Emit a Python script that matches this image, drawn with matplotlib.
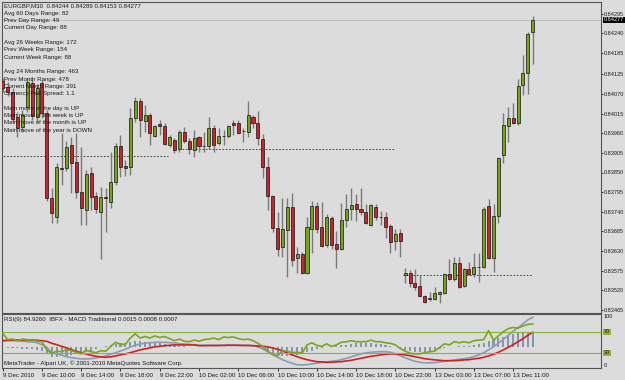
import numpy as np
import matplotlib.pyplot as plt
from matplotlib.transforms import blended_transform_factory

plt.rcParams['font.family'] = ['Liberation Sans', 'DejaVu Sans']

symbol = 'EURGBP,M30'

# M30 candles, oldest first
opens = [0.84106, 0.84090, 0.84075, 0.84005, 0.83977, 0.84033, 0.84101, 0.84005, 0.84101, 0.84017,
         0.83779, 0.83725, 0.83863, 0.83863, 0.83927, 0.83879, 0.83795, 0.83745, 0.83849, 0.83784,
         0.83739, 0.83781, 0.83767, 0.83823, 0.83924, 0.83868, 0.83865, 0.84003, 0.84050, 0.83994,
         0.84011, 0.83952, 0.83986, 0.83980, 0.83927, 0.83941, 0.83916, 0.83963, 0.83938, 0.83913,
         0.83949, 0.83924, 0.83924, 0.83975, 0.83933, 0.83952, 0.83952, 0.83989, 0.83989, 0.83966,
         0.83963, 0.84005, 0.83989, 0.83944, 0.83865, 0.83784, 0.83695, 0.83641, 0.83689, 0.83753,
         0.83611, 0.83622, 0.83569, 0.83692, 0.83756, 0.83697, 0.83647, 0.83723, 0.83650, 0.83636,
         0.83717, 0.83748, 0.83762, 0.83748, 0.83739, 0.83703, 0.83753, 0.83725, 0.83725, 0.83700,
         0.83658, 0.83681, 0.83563, 0.83569, 0.83541, 0.83532, 0.83504, 0.83496, 0.83496, 0.83510,
         0.83513, 0.83566, 0.83552, 0.83597, 0.83532, 0.83580, 0.83566, 0.83585, 0.83585, 0.83756,
         0.83611, 0.83728, 0.83899, 0.83980, 0.84003, 0.83989, 0.84095, 0.84129, 0.84244]
highs = [0.84115, 0.84103, 0.84087, 0.84019, 0.84025, 0.84115, 0.84112, 0.84098, 0.84109, 0.84025,
         0.83807, 0.83877, 0.83961, 0.83938, 0.83949, 0.83961, 0.83921, 0.83857, 0.83865, 0.83795,
         0.83809, 0.83807, 0.83907, 0.83933, 0.83955, 0.83885, 0.84031, 0.84061, 0.84059, 0.84039,
         0.84017, 0.83983, 0.83997, 0.83989, 0.83955, 0.83947, 0.83969, 0.83977, 0.83947, 0.83969,
         0.83952, 0.83963, 0.84005, 0.83983, 0.83975, 0.83969, 0.83983, 0.83997, 0.83997, 0.83975,
         0.84050, 0.84011, 0.84022, 0.83958, 0.83893, 0.83787, 0.83739, 0.83779, 0.83779, 0.83793,
         0.83641, 0.83627, 0.83725, 0.83770, 0.83767, 0.83767, 0.83734, 0.83728, 0.83686, 0.83765,
         0.83790, 0.83807, 0.83790, 0.83807, 0.83762, 0.83762, 0.83762, 0.83742, 0.83739, 0.83706,
         0.83692, 0.83692, 0.83583, 0.83577, 0.83580, 0.83563, 0.83507, 0.83515, 0.83529, 0.83518,
         0.83569, 0.83608, 0.83613, 0.83613, 0.83583, 0.83599, 0.83625, 0.83625, 0.83753, 0.83776,
         0.83762, 0.83893, 0.84017, 0.84033, 0.84045, 0.84112, 0.84179, 0.84243, 0.84289]
lows = [0.84075, 0.84064, 0.83991, 0.83949, 0.83963, 0.84019, 0.83997, 0.83991, 0.84003, 0.83770,
        0.83709, 0.83709, 0.83815, 0.83854, 0.83793, 0.83779, 0.83703, 0.83703, 0.83745, 0.83737,
        0.83608, 0.83683, 0.83751, 0.83815, 0.83837, 0.83840, 0.83843, 0.83991, 0.83949, 0.83963,
        0.83927, 0.83949, 0.83955, 0.83927, 0.83921, 0.83905, 0.83907, 0.83933, 0.83902, 0.83893,
        0.83907, 0.83907, 0.83916, 0.83907, 0.83927, 0.83927, 0.83947, 0.83955, 0.83958, 0.83935,
        0.83949, 0.83975, 0.83927, 0.83835, 0.83745, 0.83683, 0.83616, 0.83613, 0.83557, 0.83588,
        0.83569, 0.83566, 0.83566, 0.83625, 0.83681, 0.83641, 0.83641, 0.83636, 0.83583, 0.83633,
        0.83697, 0.83717, 0.83714, 0.83731, 0.83706, 0.83700, 0.83717, 0.83703, 0.83667, 0.83625,
        0.83633, 0.83613, 0.83541, 0.83529, 0.83521, 0.83501, 0.83485, 0.83490, 0.83493, 0.83485,
        0.83510, 0.83549, 0.83546, 0.83527, 0.83529, 0.83563, 0.83557, 0.83543, 0.83583, 0.83608,
        0.83571, 0.83709, 0.83877, 0.83935, 0.83987, 0.83983, 0.84067, 0.84070, 0.84153]
closes = [0.84087, 0.84075, 0.84000, 0.83975, 0.84011, 0.84103, 0.84008, 0.84087, 0.84017, 0.83779,
          0.83737, 0.83865, 0.83860, 0.83921, 0.83877, 0.83795, 0.83751, 0.83846, 0.83781, 0.83748,
          0.83781, 0.83779, 0.83823, 0.83924, 0.83865, 0.83863, 0.84003, 0.84050, 0.83997, 0.84011,
          0.83961, 0.83980, 0.83980, 0.83930, 0.83949, 0.83913, 0.83963, 0.83938, 0.83916, 0.83947,
          0.83924, 0.83925, 0.83975, 0.83927, 0.83952, 0.83953, 0.83980, 0.83983, 0.83961, 0.83967,
          0.84011, 0.83989, 0.83947, 0.83865, 0.83784, 0.83695, 0.83636, 0.83692, 0.83753, 0.83605,
          0.83622, 0.83569, 0.83697, 0.83756, 0.83692, 0.83644, 0.83725, 0.83647, 0.83636, 0.83717,
          0.83748, 0.83759, 0.83748, 0.83739, 0.83709, 0.83759, 0.83725, 0.83726, 0.83697, 0.83655,
          0.83678, 0.83658, 0.83569, 0.83541, 0.83529, 0.83504, 0.83487, 0.83497, 0.83513, 0.83515,
          0.83566, 0.83552, 0.83597, 0.83529, 0.83580, 0.83566, 0.83585, 0.83586, 0.83748, 0.83611,
          0.83728, 0.83891, 0.83983, 0.84003, 0.83989, 0.84092, 0.84129, 0.84238, 0.84277]

# indicator window
rsi = [67, 55, 56, 53, 56, 55, 54, 52, 51, 35,
       29, 33, 32, 36, 34, 31, 28, 35, 32, 30,
       34, 33, 42, 50, 46, 46, 58, 66, 58, 61,
       58, 62, 59, 61, 57, 53, 56, 52, 51, 54,
       52, 55, 56, 58, 55, 60, 59, 60, 57, 55,
       56, 53, 48, 42, 33, 27, 24, 34, 33, 30,
       31, 29, 45, 49, 44, 42, 47, 42, 45, 50,
       51, 53, 51, 51, 51, 54, 51, 51, 49, 48,
       45, 38, 33, 29, 28, 28, 30, 32, 33, 40,
       47, 45, 51, 49, 51, 49, 53, 54, 55, 72,
       54, 62, 70, 76, 78, 77, 81, 84, 84.926]
macd = [0.00033, 0.00033, 0.00033, 0.00032, 0.00030, 0.00028, 0.00027, 0.00023, 0.00013, 0.00000,
        -0.00027, -0.00033, -0.00040, -0.00047, -0.00052, -0.00055, -0.00058, -0.00058, -0.00057, -0.00053,
        -0.00048, -0.00043, -0.00035, -0.00027, -0.00018, -0.00010, 0.00002, 0.00010, 0.00017, 0.00020,
        0.00023, 0.00025, 0.00025, 0.00025, 0.00023, 0.00022, 0.00018, 0.00017, 0.00015, 0.00013,
        0.00010, 0.00011, 0.00010, 0.00009, 0.00010, 0.00011, 0.00012, 0.00011, 0.00010, 0.00010,
        0.00010, 0.00008, 0.00002, -0.00008, -0.00022, -0.00037, -0.00050, -0.00062, -0.00072, -0.00080,
        -0.00087, -0.00088, -0.00087, -0.00083, -0.00080, -0.00075, -0.00073, -0.00070, -0.00067, -0.00062,
        -0.00055, -0.00048, -0.00040, -0.00033, -0.00028, -0.00025, -0.00023, -0.00022, -0.00022, -0.00025,
        -0.00032, -0.00042, -0.00052, -0.00062, -0.00070, -0.00075, -0.00078, -0.00078, -0.00077, -0.00073,
        -0.00070, -0.00067, -0.00063, -0.00060, -0.00057, -0.00053, -0.00047, -0.00038, -0.00027, -0.00012,
        0.00003, 0.00020, 0.00040, 0.00060, 0.00080, 0.00098, 0.00117, 0.00137, 0.00150]
signal = [0.00033, 0.00035, 0.00037, 0.00037, 0.00037, 0.00037, 0.00037, 0.00035, 0.00033, 0.00030,
          0.00020, 0.00013, 0.00005, -0.00003, -0.00012, -0.00020, -0.00027, -0.00033, -0.00040, -0.00045,
          -0.00048, -0.00050, -0.00048, -0.00043, -0.00038, -0.00033, -0.00027, -0.00020, -0.00013, -0.00008,
          -0.00003, 0.00002, 0.00005, 0.00008, 0.00010, 0.00012, 0.00012, 0.00012, 0.00012, 0.00012,
          0.00008, 0.00008, 0.00009, 0.00009, 0.00009, 0.00009, 0.00010, 0.00010, 0.00010, 0.00009,
          0.00009, 0.00008, 0.00007, 0.00005, 0.00002, -0.00003, -0.00010, -0.00018, -0.00028, -0.00038,
          -0.00047, -0.00055, -0.00062, -0.00067, -0.00072, -0.00073, -0.00075, -0.00075, -0.00073, -0.00072,
          -0.00068, -0.00065, -0.00060, -0.00055, -0.00050, -0.00045, -0.00042, -0.00038, -0.00035, -0.00033,
          -0.00033, -0.00035, -0.00038, -0.00042, -0.00047, -0.00052, -0.00057, -0.00060, -0.00063, -0.00065,
          -0.00067, -0.00067, -0.00067, -0.00065, -0.00063, -0.00062, -0.00058, -0.00055, -0.00050, -0.00043,
          -0.00035, -0.00025, -0.00013, 0.00000, 0.00013, 0.00028, 0.00043, 0.00060, 0.00075]
rsi_levels = [70, 30]

price_ticks = [0.84295, 0.84240, 0.84185, 0.84125, 0.84070, 0.84015, 0.83960, 0.83905,
               0.83850, 0.83795, 0.83740, 0.83685, 0.83630, 0.83575, 0.83520, 0.83465]
time_bars = [0, 8, 16, 24, 32, 40, 48, 56, 64, 72, 80, 88, 96, 104]
time_labels = ['9 Dec 2010', '9 Dec 10:00', '9 Dec 14:00', '9 Dec 18:00', '9 Dec 22:00',
               '10 Dec 02:00', '10 Dec 06:00', '10 Dec 10:00', '10 Dec 14:00', '10 Dec 18:00',
               '10 Dec 22:00', '13 Dec 03:00', '13 Dec 07:00', '13 Dec 11:00']

# dashed daily levels: price, first bar, last bar
level_prices = [0.83895, 0.83915, 0.83562]
level_starts = [-0.5, 36.6, 81.6]
level_ends = [33.7, 80.0, 108.0]

info_lines = ['Avg 60 Days Range: 82', 'Prev Day Range: 49', 'Current Day Range: 88', '',
              'Avg 26 Weeks Range: 172', 'Prev Week Range: 154', 'Current Week Range: 88', '',
              'Avg 24 Months Range: 463', 'Prev Month Range: 478', 'Current Month Range: 391',
              'Currency Pair Spread: 1.1', '',
              'Main move of the day is UP', 'Main move of the week is UP',
              'Main move of the month is UP', 'Main move of the year is DOWN']
panel_title = 'RSI(9) 84.9260  IBFX - MACD Traditional 0.0015 0.0008 0.0007'
copyright_text = 'MetaTrader - Alpari UK, \u00a9 2001-2010 MetaQuotes Software Corp.'

bg = '#dcdcdc'
fs = 4.4
fs_axis = 4.0
txt = '#1a1a1a'
spine_c = '#555555'

fig = plt.figure(figsize=(6.25, 3.8), dpi=100, facecolor=bg)
ax = fig.add_axes([2 / 625, 67 / 380, 599 / 625, 311 / 380], facecolor=bg)
axm = fig.add_axes([2 / 625, 12 / 380, 599 / 625, 54 / 380], facecolor=bg)
ax2 = fig.add_axes([2 / 625, 12 / 380, 599 / 625, 54 / 380], facecolor='none')

o, h, l, c = (np.array(v) for v in (opens, highs, lows, closes))
x = np.arange(len(c))
up = c >= o

ax.axhline(c[-1], color='#c4c4c4', lw=0.8, zorder=1)
ax.vlines(x, l, h, color='#7a7a7a', lw=1.0, zorder=2)
ax.bar(x, np.maximum(np.abs(c - o), 0.000012), bottom=np.minimum(o, c), width=0.62,
       color=np.where(up, '#76a21e', '#cc2229'), edgecolor='#141414', linewidth=0.5, zorder=3)
for p, s, e in zip(level_prices, level_starts, level_ends):
    ax.plot([s, e], [p, p], color='#2a2a2a', lw=0.6, ls=(0, (2, 2)), zorder=1)

xlim = (-0.14, 121.9)
ax.set_xlim(*xlim)
ax.set_ylim(0.834566, 0.843274)
ax.yaxis.tick_right()
ax.set_yticks(price_ticks)
ax.set_yticklabels([f'{p:.5f}' for p in price_ticks])
ax.tick_params(axis='y', labelsize=fs_axis, length=1.5, pad=0.8, colors=txt, width=0.6)
ax.tick_params(axis='x', bottom=False, labelbottom=False)

tr = blended_transform_factory(ax.transAxes, ax.transData)
ax.text(1 + 2.5 / 599, c[-1], f'{c[-1]:.5f}', transform=tr, color='white', fontsize=fs_axis,
        va='center', ha='left', clip_on=False,
        bbox=dict(facecolor='black', edgecolor='none', pad=0.6))

# top-left texts
fig.text(4 / 625, 1 - 6 / 380, f'{symbol}  {o[-1]:.5f} {h[-1]:.5f} {l[-1]:.5f} {c[-1]:.5f}',
         fontsize=fs, color=txt, va='center')
for k, line in enumerate(info_lines):
    fig.text(4 / 625, 1 - (13.3 + 7.3 * k) / 380, line, fontsize=fs, color=txt, va='center')

# MACD histogram and lines on their own scale
m = np.array(macd)
sg = np.array(signal)
axm.bar(x, m - sg, width=0.42, color='#8497ae', zorder=2)
axm.plot(x, m, color='#8a9cb4', lw=1.2, zorder=3)
axm.plot(x, sg, color='#d41f1f', lw=1.2, zorder=3)
axm.set_xlim(*xlim)
axm.set_ylim(-0.001035, 0.001665)
axm.axis('off')

# RSI with levels
for lv in rsi_levels:
    ax2.axhline(lv, color='#8fb03a', lw=0.8, zorder=1)
ax2.plot(x, rsi, color='#7aa51c', lw=1.2, zorder=4)
ax2.set_xlim(*xlim)
ax2.set_ylim(0.95, 103.8)
ax2.set_yticks([])
ax2.set_xticks(time_bars)
ax2.set_xticklabels(time_labels, ha='left')
ax2.tick_params(axis='x', labelsize=fs, length=2, pad=1.5, colors=txt, width=0.6)

tr2 = blended_transform_factory(ax2.transAxes, ax2.transData)
ax2.text(1 + 3 / 599, 99, '100', transform=tr2, fontsize=fs_axis, color=txt, va='center', clip_on=False)
ax2.text(1 + 3 / 599, 6, '0', transform=tr2, fontsize=fs_axis, color=txt, va='center', clip_on=False)
for lv in rsi_levels:
    ax2.text(1 + 3 / 599, lv, str(lv), transform=tr2, fontsize=fs_axis, color='#1e2a08', va='center',
             clip_on=False, bbox=dict(facecolor='#8fb03a', edgecolor='none', pad=0.5))

ax2.text(2 / 599, 0.89, panel_title, transform=ax2.transAxes, fontsize=fs, color=txt, va='center')
ax2.text(2 / 599, 0.09, copyright_text, transform=ax2.transAxes, fontsize=fs, color=txt, va='center')

for a in (ax, ax2):
    for sp in a.spines.values():
        sp.set_color(spine_c)
        sp.set_linewidth(0.8)

fig.savefig('out.png', dpi=100, facecolor=bg)
